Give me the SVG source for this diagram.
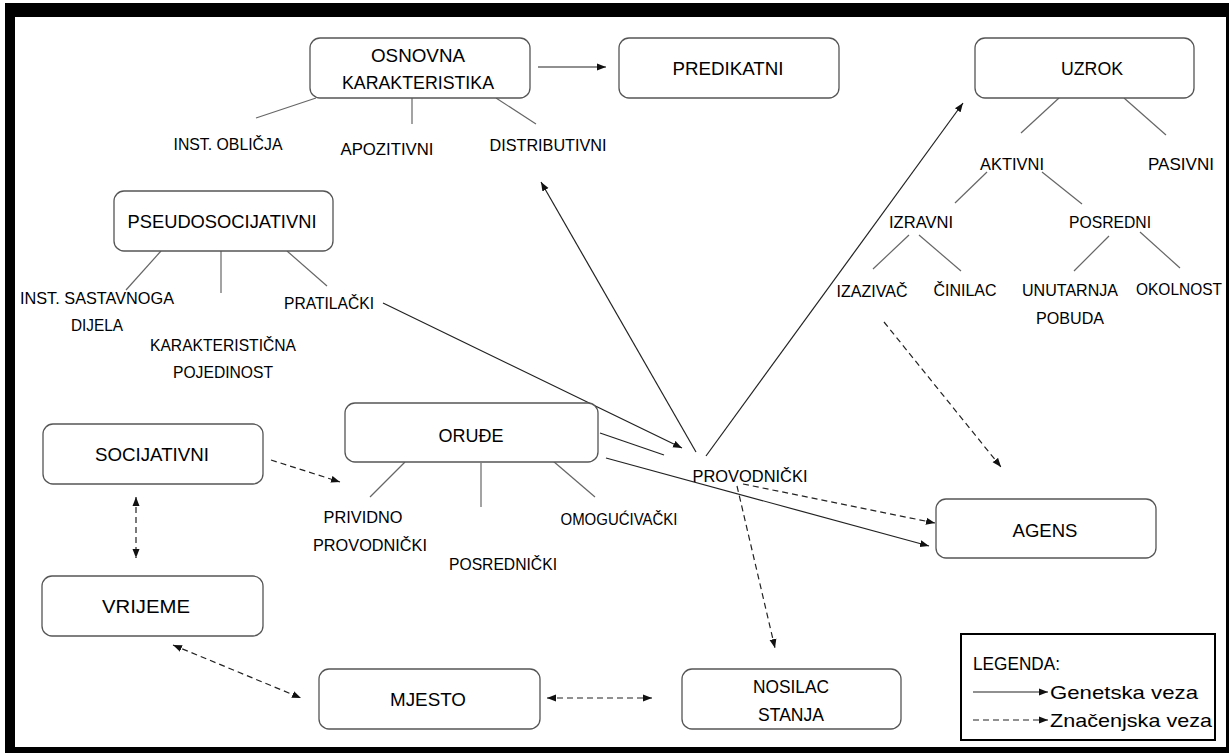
<svg xmlns="http://www.w3.org/2000/svg" width="1229" height="753" viewBox="0 0 1229 753">
  <style>
    .box { fill: #fff; stroke: #555; stroke-width: 1.3; }
    .lbl { font-family: "Liberation Sans", Arial, sans-serif; font-size: 19px; fill: #000; text-anchor: middle; }
    .sub { font-family: "Liberation Sans", Arial, sans-serif; font-size: 17px; fill: #000; text-anchor: middle; }
    .leg { font-family: "Liberation Sans", Arial, sans-serif; font-size: 19px; fill: #000; }
    .tree { stroke: #666; stroke-width: 1.2; fill: none; }
    .gen { stroke: #222; stroke-width: 1.2; fill: none; }
    .sem { stroke: #222; stroke-width: 1.2; fill: none; stroke-dasharray: 6 4; }
  </style>
  <defs>
    <marker id="ah" markerUnits="userSpaceOnUse" markerWidth="10" markerHeight="8" refX="9" refY="4" orient="auto-start-reverse">
      <path d="M0,0.5 L9,4 L0,7.5 z" fill="#111"/>
    </marker>
  </defs>

  <!-- page frame -->
  <rect x="0" y="0" width="1229" height="753" fill="#fff"/>
  <rect x="5" y="3" width="1224" height="750" fill="#000"/>
  <rect x="15" y="17" width="1211" height="730" fill="#fff"/>

  <!-- tree branches -->
  <g id="branches">
    <line class="tree" x1="316" y1="98" x2="256" y2="118"/>
    <line class="tree" x1="412" y1="98" x2="412" y2="124"/>
    <line class="tree" x1="496" y1="98" x2="536" y2="124"/>
    <line class="tree" x1="1059" y1="98" x2="1021" y2="133"/>
    <line class="tree" x1="1124" y1="98" x2="1166" y2="135"/>
    <line class="tree" x1="987" y1="172" x2="955" y2="203"/>
    <line class="tree" x1="1042" y1="172" x2="1082" y2="204"/>
    <line class="tree" x1="909" y1="235" x2="873" y2="269"/>
    <line class="tree" x1="919" y1="235" x2="961" y2="271"/>
    <line class="tree" x1="1109" y1="236" x2="1074" y2="271"/>
    <line class="tree" x1="1140" y1="232" x2="1180" y2="268"/>
    <line class="tree" x1="161" y1="251" x2="126" y2="290"/>
    <line class="tree" x1="221" y1="251" x2="221" y2="293"/>
    <line class="tree" x1="287" y1="251" x2="327" y2="286"/>
    <line class="tree" x1="405" y1="462" x2="370" y2="497"/>
    <line class="tree" x1="481" y1="463" x2="481" y2="507"/>
    <line class="tree" x1="553" y1="461" x2="595" y2="497"/>
  </g>

  <!-- connectors -->
  <g id="connectors">
    <line class="gen" x1="538" y1="67" x2="606" y2="67" marker-end="url(#ah)"/>
    <line class="gen" x1="696" y1="452" x2="541" y2="182" marker-end="url(#ah)"/>
    <line class="gen" x1="706" y1="456" x2="963" y2="103" marker-end="url(#ah)"/>
    <line class="gen" x1="383" y1="303" x2="682" y2="448" marker-end="url(#ah)"/>
    <line class="gen" x1="600" y1="433" x2="664" y2="455"/>
    <line class="gen" x1="606" y1="458" x2="929" y2="546" marker-end="url(#ah)"/>
    <line class="sem" x1="271" y1="460" x2="340" y2="482" marker-end="url(#ah)"/>
    <line class="sem" x1="136" y1="497" x2="136" y2="558" marker-start="url(#ah)" marker-end="url(#ah)"/>
    <line class="sem" x1="173" y1="645" x2="301" y2="698" marker-start="url(#ah)" marker-end="url(#ah)"/>
    <line class="sem" x1="547" y1="698" x2="652" y2="698" marker-start="url(#ah)" marker-end="url(#ah)"/>
    <line class="sem" x1="737" y1="486" x2="775" y2="648" marker-end="url(#ah)"/>
    <line class="sem" x1="743" y1="484" x2="935" y2="523" marker-end="url(#ah)"/>
    <line class="sem" x1="884" y1="322" x2="1001" y2="467" marker-end="url(#ah)"/>
  </g>

  <!-- nodes -->
  <g id="osnovna">
    <rect class="box" x="310" y="38" width="220" height="60" rx="10"/>
    <text class="lbl" x="418" y="62" textLength="94" lengthAdjust="spacingAndGlyphs">OSNOVNA</text>
    <text class="lbl" x="418" y="89" textLength="152" lengthAdjust="spacingAndGlyphs">KARAKTERISTIKA</text>
  </g>
  <g id="predikatni">
    <rect class="box" x="619" y="38" width="220" height="60" rx="10"/>
    <text class="lbl" x="728" y="75" textLength="111" lengthAdjust="spacingAndGlyphs">PREDIKATNI</text>
  </g>
  <g id="uzrok">
    <rect class="box" x="975" y="38" width="219" height="60" rx="10"/>
    <text class="lbl" x="1092" y="75" textLength="62" lengthAdjust="spacingAndGlyphs">UZROK</text>
  </g>
  <g id="pseudosocijativni">
    <rect class="box" x="114" y="191" width="219" height="60" rx="10"/>
    <text class="lbl" x="222" y="228" textLength="189" lengthAdjust="spacingAndGlyphs">PSEUDOSOCIJATIVNI</text>
  </g>
  <g id="orude">
    <rect class="box" x="345" y="403" width="253" height="59" rx="10"/>
    <text class="lbl" x="471" y="442" textLength="65" lengthAdjust="spacingAndGlyphs">ORUĐE</text>
  </g>
  <g id="socijativni">
    <rect class="box" x="43" y="424" width="220" height="60" rx="10"/>
    <text class="lbl" x="152" y="461" textLength="114" lengthAdjust="spacingAndGlyphs">SOCIJATIVNI</text>
  </g>
  <g id="vrijeme">
    <rect class="box" x="42" y="576" width="221" height="60" rx="10"/>
    <text class="lbl" x="146" y="613" textLength="88" lengthAdjust="spacingAndGlyphs">VRIJEME</text>
  </g>
  <g id="mjesto">
    <rect class="box" x="319" y="669" width="221" height="60" rx="10"/>
    <text class="lbl" x="428" y="706" textLength="76" lengthAdjust="spacingAndGlyphs">MJESTO</text>
  </g>
  <g id="nosilac">
    <rect class="box" x="682" y="669" width="219" height="60" rx="10"/>
    <text class="lbl" x="791" y="693" textLength="76" lengthAdjust="spacingAndGlyphs">NOSILAC</text>
    <text class="lbl" x="791" y="721" textLength="66" lengthAdjust="spacingAndGlyphs">STANJA</text>
  </g>
  <g id="agens">
    <rect class="box" x="936" y="499" width="220" height="59" rx="10"/>
    <text class="lbl" x="1045" y="537" textLength="65" lengthAdjust="spacingAndGlyphs">AGENS</text>
  </g>

  <!-- branch labels -->
  <g id="labels">
    <text class="sub" x="228" y="150" textLength="109" lengthAdjust="spacingAndGlyphs">INST. OBLIČJA</text>
    <text class="sub" x="387" y="155" textLength="93" lengthAdjust="spacingAndGlyphs">APOZITIVNI</text>
    <text class="sub" x="548" y="151" textLength="117" lengthAdjust="spacingAndGlyphs">DISTRIBUTIVNI</text>
    <text class="sub" x="1012" y="170" textLength="64" lengthAdjust="spacingAndGlyphs">AKTIVNI</text>
    <text class="sub" x="1181" y="170" textLength="66" lengthAdjust="spacingAndGlyphs">PASIVNI</text>
    <text class="sub" x="921" y="228" textLength="64" lengthAdjust="spacingAndGlyphs">IZRAVNI</text>
    <text class="sub" x="1110" y="228" textLength="82" lengthAdjust="spacingAndGlyphs">POSREDNI</text>
    <text class="sub" x="872" y="297" textLength="71" lengthAdjust="spacingAndGlyphs">IZAZIVAČ</text>
    <text class="sub" x="965" y="296" textLength="63" lengthAdjust="spacingAndGlyphs">ČINILAC</text>
    <text class="sub" x="1070" y="296" textLength="96" lengthAdjust="spacingAndGlyphs">UNUTARNJA</text>
    <text class="sub" x="1070" y="324" textLength="68" lengthAdjust="spacingAndGlyphs">POBUDA</text>
    <text class="sub" x="1179" y="295" textLength="86" lengthAdjust="spacingAndGlyphs">OKOLNOST</text>
    <text class="sub" x="97" y="304" textLength="154" lengthAdjust="spacingAndGlyphs">INST. SASTAVNOGA</text>
    <text class="sub" x="97" y="331" textLength="52" lengthAdjust="spacingAndGlyphs">DIJELA</text>
    <text class="sub" x="223" y="351" textLength="146" lengthAdjust="spacingAndGlyphs">KARAKTERISTIČNA</text>
    <text class="sub" x="223" y="378" textLength="100" lengthAdjust="spacingAndGlyphs">POJEDINOST</text>
    <text class="sub" x="329" y="309" textLength="90" lengthAdjust="spacingAndGlyphs">PRATILAČKI</text>
    <text class="sub" x="363" y="523" textLength="79" lengthAdjust="spacingAndGlyphs">PRIVIDNO</text>
    <text class="sub" x="370" y="551" textLength="114" lengthAdjust="spacingAndGlyphs">PROVODNIČKI</text>
    <text class="sub" x="503" y="570" textLength="108" lengthAdjust="spacingAndGlyphs">POSREDNIČKI</text>
    <text class="sub" x="619" y="525" textLength="117" lengthAdjust="spacingAndGlyphs">OMOGUĆIVAČKI</text>
    <text class="sub" x="750" y="482" textLength="115" lengthAdjust="spacingAndGlyphs">PROVODNIČKI</text>
  </g>

  <!-- legend -->
  <g id="legend">
    <rect x="961" y="634" width="254" height="106" fill="#fff" stroke="#000" stroke-width="2"/>
    <text class="leg" x="973" y="670" textLength="87" lengthAdjust="spacingAndGlyphs">LEGENDA:</text>
    <line class="gen" x1="973" y1="692" x2="1048" y2="692" marker-end="url(#ah)"/>
    <text class="leg" x="1050" y="699" textLength="148" lengthAdjust="spacingAndGlyphs">Genetska veza</text>
    <line class="sem" x1="973" y1="720" x2="1048" y2="720" stroke-dasharray="4 3" marker-end="url(#ah)"/>
    <text class="leg" x="1050" y="727" textLength="162" lengthAdjust="spacingAndGlyphs">Značenjska veza</text>
  </g>
</svg>
